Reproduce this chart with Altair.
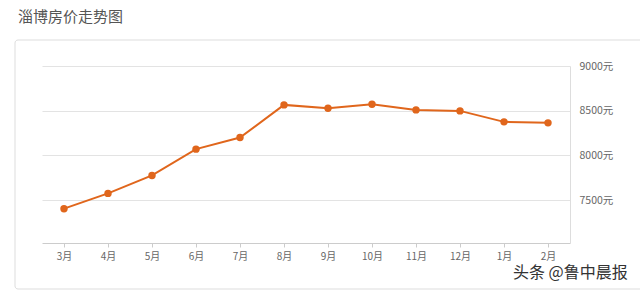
import altair as alt
import pandas as pd

months = ["3月", "4月", "5月", "6月", "7月", "8月", "9月", "10月", "11月", "12月", "1月", "2月"]
prices = [7404, 7575, 7776, 8070, 8200, 8565, 8528, 8573, 8509, 8498, 8375, 8364]
y_ticks = [7500, 8000, 8500, 9000]
title_text = "淄博房价走势图"
watermark = "头条 @鲁中晨报"

df = pd.DataFrame({"month": months, "price": prices})

FONT = "Noto Sans CJK SC"
ORANGE = "#E0661C"

frame = alt.Chart(pd.DataFrame({"a": [0]})).mark_rect(
    fillOpacity=0, stroke="#dddddd", strokeWidth=1, cornerRadius=3
).encode(
    x=alt.value(-27), x2=alt.value(620), y=alt.value(-26), y2=alt.value(223)
)

x_enc = alt.X(
    "month:N", sort=months, title=None,
    scale=alt.Scale(type="point", padding=0.5),
    axis=alt.Axis(labelAngle=0, domainColor="#cccccc", tickColor="#cccccc",
                  tickSize=4, labelColor="#666666", labelFontSize=10,
                  labelFont=FONT, labelPadding=4, grid=False),
)
y_enc = alt.Y(
    "price:Q", title=None,
    scale=alt.Scale(domain=[7020, 9000], nice=False, zero=False),
    axis=alt.Axis(orient="right", values=y_ticks, labelExpr="datum.value + '元'",
                  domainColor="#dddddd", ticks=False, labelPadding=9,
                  labelColor="#666666", labelFontSize=10.5, labelFont=FONT,
                  gridColor="#e3e3e3", gridWidth=1),
)

line = alt.Chart(df).mark_line(color=ORANGE, strokeWidth=2).encode(x=x_enc, y=y_enc)
points = alt.Chart(df).mark_point(filled=True, color=ORANGE, size=55, opacity=1).encode(x=x_enc, y=y_enc)

ttl = alt.Chart(pd.DataFrame({"t": [title_text]})).mark_text(
    align="left", baseline="middle", fontSize=15, font=FONT, color="#555555"
).encode(text="t:N", x=alt.value(-24), y=alt.value(-49))

wm = alt.Chart(pd.DataFrame({"t": [watermark]})).mark_text(
    align="left", baseline="middle", fontSize=16, font=FONT, color="#333333"
).encode(text="t:N", x=alt.value(471), y=alt.value(207))

chart = alt.layer(frame, line, points, ttl, wm).properties(
    width=528, height=177,
    autosize=alt.AutoSizeParams(type="none"),
    padding={"left": 42, "top": 66, "right": 70, "bottom": 48},
    background="white",
).configure_view(stroke=None)

chart.save("out.html", embed_options={"renderer": "svg", "actions": False})
